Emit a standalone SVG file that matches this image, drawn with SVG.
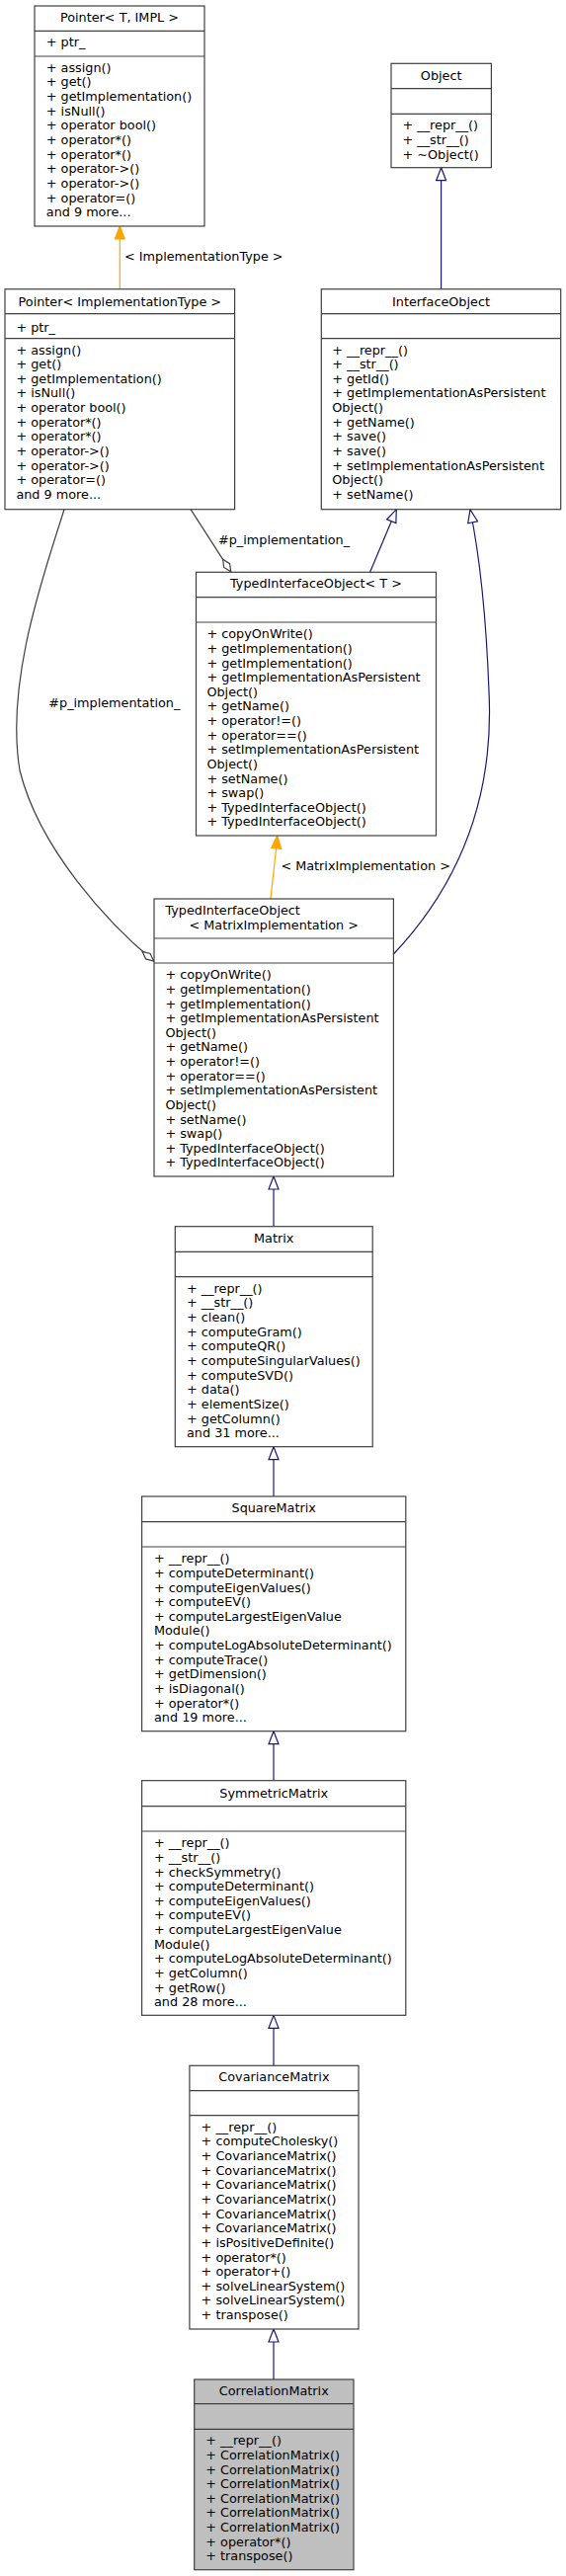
<svg xmlns="http://www.w3.org/2000/svg" width="573" height="2608" viewBox="0 0 573 2608">
<style>
.box{fill:#ffffff;stroke:#404040;stroke-width:1.2}
.hl{fill:#bfbfbf}
.sep{stroke:#404040;stroke-width:1.2;fill:none}
text{font-family:"DejaVu Sans","Liberation Sans",sans-serif;font-size:12.8px;fill:#000000}
.c{text-anchor:middle}
.inh{stroke:#191970;stroke-width:1.2;fill:none}
.tpl{stroke:#ffa500;stroke-width:1.2;fill:none}
.agg{stroke:#404040;stroke-width:1.2;fill:none}
</style>
<defs>
<marker id="mInh" markerUnits="userSpaceOnUse" markerWidth="16" markerHeight="12" refX="14" refY="6" orient="auto"><path d="M1,1 L14,6 L1,11 Z" fill="#ffffff" stroke="#191970" stroke-width="1.2"/></marker>
<marker id="mTpl" markerUnits="userSpaceOnUse" markerWidth="16" markerHeight="12" refX="14" refY="6" orient="auto"><path d="M1,1 L14,6 L1,11 Z" fill="#ffa500" stroke="#ffa500" stroke-width="1.2"/></marker>
<marker id="mAgg" markerUnits="userSpaceOnUse" markerWidth="18" markerHeight="10" refX="16.5" refY="5" orient="auto"><path d="M1,5 L8.5,1.5 L16,5 L8.5,8.5 Z" fill="#ffffff" stroke="#404040" stroke-width="1.2"/></marker>
</defs>
<g id="connectors">
<path class="tpl" d="M121.3,292.7 L121.3,229" marker-end="url(#mTpl)"/>
<text x="126" y="263.8">&lt; ImplementationType &gt;</text>
<path class="inh" d="M446.6,292.7 L446.6,169.7" marker-end="url(#mInh)"/>
<path class="inh" d="M374.6,579.3 L401.3,515.7" marker-end="url(#mInh)"/>
<path class="agg" d="M193,515.7 L234,579.3" marker-end="url(#mAgg)"/>
<text x="221" y="551.2">#p_implementation_</text>
<path class="agg" d="M65,515.7 C45,580 5,690 20,780 C40,860 110,935 156,973.3" marker-end="url(#mAgg)"/>
<text x="49.3" y="716.2">#p_implementation_</text>
<path class="inh" d="M398.4,966 C470,890 500,800 495,700 C492,620 485,560 476,516" marker-end="url(#mInh)"/>
<path class="tpl" d="M274,910 C276,890 279,868 280.7,846" marker-end="url(#mTpl)"/>
<text x="284.4" y="881.2">&lt; MatrixImplementation &gt;</text>
<path class="inh" d="M277,1241.7 L277,1191" marker-end="url(#mInh)"/>
<path class="inh" d="M277,1515 L277,1464.7" marker-end="url(#mInh)"/>
<path class="inh" d="M277,1802.7 L277,1752.7" marker-end="url(#mInh)"/>
<path class="inh" d="M277,2091.3 L277,2040.3" marker-end="url(#mInh)"/>
<path class="inh" d="M277,2409 L277,2358" marker-end="url(#mInh)"/>
</g>
<g id="node_pointer_t_impl">
<rect class="box" x="35" y="6" width="172" height="223"/>
<path class="sep" d="M35,31.3 H207 M35,57 H207"/>
<text class="c" x="121" y="21.8">Pointer&lt; T, IMPL &gt;</text>
<text x="46.8" y="47.2">+ ptr_</text>
<text x="46.8"><tspan x="46.8" y="72.8">+ assign()</tspan><tspan x="46.8" y="87.4">+ get()</tspan><tspan x="46.8" y="102.1">+ getImplementation()</tspan><tspan x="46.8" y="116.7">+ isNull()</tspan><tspan x="46.8" y="131.3">+ operator bool()</tspan><tspan x="46.8" y="146">+ operator*()</tspan><tspan x="46.8" y="160.6">+ operator*()</tspan><tspan x="46.8" y="175.2">+ operator-&gt;()</tspan><tspan x="46.8" y="189.8">+ operator-&gt;()</tspan><tspan x="46.8" y="204.5">+ operator=()</tspan><tspan x="46.8" y="219.1">and 9 more...</tspan></text>
</g>
<g id="node_object">
<rect class="box" x="396" y="64.3" width="101.4" height="105.4"/>
<path class="sep" d="M396,89.7 H497.4 M396,115.3 H497.4"/>
<text class="c" x="446.7" y="81.2">Object</text>
<text x="407.5"><tspan x="407.5" y="131.2">+ __repr__()</tspan><tspan x="407.5" y="145.8">+ __str__()</tspan><tspan x="407.5" y="160.5">+ ~Object()</tspan></text>
</g>
<g id="node_pointer_impltype">
<rect class="box" x="5" y="292.7" width="232.6" height="223"/>
<path class="sep" d="M5,317.7 H237.6 M5,342.7 H237.6"/>
<text class="c" x="121.3" y="309.5">Pointer&lt; ImplementationType &gt;</text>
<text x="16.4" y="335.5">+ ptr_</text>
<text x="16.4"><tspan x="16.4" y="358.5">+ assign()</tspan><tspan x="16.4" y="373.1">+ get()</tspan><tspan x="16.4" y="387.8">+ getImplementation()</tspan><tspan x="16.4" y="402.4">+ isNull()</tspan><tspan x="16.4" y="417">+ operator bool()</tspan><tspan x="16.4" y="431.7">+ operator*()</tspan><tspan x="16.4" y="446.3">+ operator*()</tspan><tspan x="16.4" y="460.9">+ operator-&gt;()</tspan><tspan x="16.4" y="475.5">+ operator-&gt;()</tspan><tspan x="16.4" y="490.2">+ operator=()</tspan><tspan x="16.4" y="504.8">and 9 more...</tspan></text>
</g>
<g id="node_interfaceobject">
<rect class="box" x="325.3" y="292.7" width="242.4" height="223"/>
<path class="sep" d="M325.3,317.7 H567.7 M325.3,342.7 H567.7"/>
<text class="c" x="446.5" y="309.5">InterfaceObject</text>
<text x="336.3"><tspan x="336.3" y="358.5">+ __repr__()</tspan><tspan x="336.3" y="373.1">+ __str__()</tspan><tspan x="336.3" y="387.8">+ getId()</tspan><tspan x="336.3" y="402.4">+ getImplementationAsPersistent</tspan><tspan x="336.3" y="417">Object()</tspan><tspan x="336.3" y="431.7">+ getName()</tspan><tspan x="336.3" y="446.3">+ save()</tspan><tspan x="336.3" y="460.9">+ save()</tspan><tspan x="336.3" y="475.5">+ setImplementationAsPersistent</tspan><tspan x="336.3" y="490.2">Object()</tspan><tspan x="336.3" y="504.8">+ setName()</tspan></text>
</g>
<g id="node_typedinterfaceobject_t">
<rect class="box" x="198.5" y="579.3" width="243" height="266.7"/>
<path class="sep" d="M198.5,604.7 H441.5 M198.5,630 H441.5"/>
<text class="c" x="320" y="595.2">TypedInterfaceObject&lt; T &gt;</text>
<text x="209.4"><tspan x="209.4" y="646.2">+ copyOnWrite()</tspan><tspan x="209.4" y="660.8">+ getImplementation()</tspan><tspan x="209.4" y="675.5">+ getImplementation()</tspan><tspan x="209.4" y="690.1">+ getImplementationAsPersistent</tspan><tspan x="209.4" y="704.7">Object()</tspan><tspan x="209.4" y="719.4">+ getName()</tspan><tspan x="209.4" y="734">+ operator!=()</tspan><tspan x="209.4" y="748.6">+ operator==()</tspan><tspan x="209.4" y="763.2">+ setImplementationAsPersistent</tspan><tspan x="209.4" y="777.9">Object()</tspan><tspan x="209.4" y="792.5">+ setName()</tspan><tspan x="209.4" y="807.1">+ swap()</tspan><tspan x="209.4" y="821.8">+ TypedInterfaceObject()</tspan><tspan x="209.4" y="836.4">+ TypedInterfaceObject()</tspan></text>
</g>
<g id="node_typedinterfaceobject_matrix">
<rect class="box" x="156" y="910" width="242.4" height="281"/>
<path class="sep" d="M156,950 H398.4 M156,975 H398.4"/>
<text x="167.4" y="926.2">TypedInterfaceObject</text>
<text class="c" x="277.2" y="940.8">&lt; MatrixImplementation &gt;</text>
<text x="167.4"><tspan x="167.4" y="991.2">+ copyOnWrite()</tspan><tspan x="167.4" y="1005.8">+ getImplementation()</tspan><tspan x="167.4" y="1020.5">+ getImplementation()</tspan><tspan x="167.4" y="1035.1">+ getImplementationAsPersistent</tspan><tspan x="167.4" y="1049.7">Object()</tspan><tspan x="167.4" y="1064.4">+ getName()</tspan><tspan x="167.4" y="1079">+ operator!=()</tspan><tspan x="167.4" y="1093.6">+ operator==()</tspan><tspan x="167.4" y="1108.2">+ setImplementationAsPersistent</tspan><tspan x="167.4" y="1122.9">Object()</tspan><tspan x="167.4" y="1137.5">+ setName()</tspan><tspan x="167.4" y="1152.1">+ swap()</tspan><tspan x="167.4" y="1166.8">+ TypedInterfaceObject()</tspan><tspan x="167.4" y="1181.4">+ TypedInterfaceObject()</tspan></text>
</g>
<g id="node_matrix">
<rect class="box" x="177.3" y="1241.7" width="199.9" height="223"/>
<path class="sep" d="M177.3,1267.3 H377.2 M177.3,1292.7 H377.2"/>
<text class="c" x="277.2" y="1257.8">Matrix</text>
<text x="189"><tspan x="189" y="1308.8">+ __repr__()</tspan><tspan x="189" y="1323.4">+ __str__()</tspan><tspan x="189" y="1338.1">+ clean()</tspan><tspan x="189" y="1352.7">+ computeGram()</tspan><tspan x="189" y="1367.3">+ computeQR()</tspan><tspan x="189" y="1382">+ computeSingularValues()</tspan><tspan x="189" y="1396.6">+ computeSVD()</tspan><tspan x="189" y="1411.2">+ data()</tspan><tspan x="189" y="1425.8">+ elementSize()</tspan><tspan x="189" y="1440.5">+ getColumn()</tspan><tspan x="189" y="1455.1">and 31 more...</tspan></text>
</g>
<g id="node_squarematrix">
<rect class="box" x="143.6" y="1515" width="267.2" height="237.7"/>
<path class="sep" d="M143.6,1540.7 H410.8 M143.6,1566 H410.8"/>
<text class="c" x="277.2" y="1531.2">SquareMatrix</text>
<text x="156"><tspan x="156" y="1582.2">+ __repr__()</tspan><tspan x="156" y="1596.8">+ computeDeterminant()</tspan><tspan x="156" y="1611.5">+ computeEigenValues()</tspan><tspan x="156" y="1626.1">+ computeEV()</tspan><tspan x="156" y="1640.7">+ computeLargestEigenValue</tspan><tspan x="156" y="1655.4">Module()</tspan><tspan x="156" y="1670">+ computeLogAbsoluteDeterminant()</tspan><tspan x="156" y="1684.6">+ computeTrace()</tspan><tspan x="156" y="1699.2">+ getDimension()</tspan><tspan x="156" y="1713.9">+ isDiagonal()</tspan><tspan x="156" y="1728.5">+ operator*()</tspan><tspan x="156" y="1743.1">and 19 more...</tspan></text>
</g>
<g id="node_symmetricmatrix">
<rect class="box" x="143.6" y="1802.7" width="267.2" height="237.6"/>
<path class="sep" d="M143.6,1828.7 H410.8 M143.6,1854 H410.8"/>
<text class="c" x="277.2" y="1819.5">SymmetricMatrix</text>
<text x="156"><tspan x="156" y="1870.2">+ __repr__()</tspan><tspan x="156" y="1884.8">+ __str__()</tspan><tspan x="156" y="1899.5">+ checkSymmetry()</tspan><tspan x="156" y="1914.1">+ computeDeterminant()</tspan><tspan x="156" y="1928.7">+ computeEigenValues()</tspan><tspan x="156" y="1943.4">+ computeEV()</tspan><tspan x="156" y="1958">+ computeLargestEigenValue</tspan><tspan x="156" y="1972.6">Module()</tspan><tspan x="156" y="1987.2">+ computeLogAbsoluteDeterminant()</tspan><tspan x="156" y="2001.9">+ getColumn()</tspan><tspan x="156" y="2016.5">+ getRow()</tspan><tspan x="156" y="2031.1">and 28 more...</tspan></text>
</g>
<g id="node_covariancematrix">
<rect class="box" x="191.9" y="2091.3" width="171.1" height="266.7"/>
<path class="sep" d="M191.9,2116.7 H363 M191.9,2141.7 H363"/>
<text class="c" x="277.4" y="2107.2">CovarianceMatrix</text>
<text x="203.6"><tspan x="203.6" y="2157.8">+ __repr__()</tspan><tspan x="203.6" y="2172.4">+ computeCholesky()</tspan><tspan x="203.6" y="2187.1">+ CovarianceMatrix()</tspan><tspan x="203.6" y="2201.7">+ CovarianceMatrix()</tspan><tspan x="203.6" y="2216.3">+ CovarianceMatrix()</tspan><tspan x="203.6" y="2231">+ CovarianceMatrix()</tspan><tspan x="203.6" y="2245.6">+ CovarianceMatrix()</tspan><tspan x="203.6" y="2260.2">+ CovarianceMatrix()</tspan><tspan x="203.6" y="2274.8">+ isPositiveDefinite()</tspan><tspan x="203.6" y="2289.5">+ operator*()</tspan><tspan x="203.6" y="2304.1">+ operator+()</tspan><tspan x="203.6" y="2318.7">+ solveLinearSystem()</tspan><tspan x="203.6" y="2333.4">+ solveLinearSystem()</tspan><tspan x="203.6" y="2348">+ transpose()</tspan></text>
</g>
<g id="node_correlationmatrix">
<rect class="box hl" x="196.7" y="2409" width="161.3" height="192.7"/>
<path class="sep" d="M196.7,2433.7 H358 M196.7,2459.3 H358"/>
<text class="c" x="277.3" y="2425.2">CorrelationMatrix</text>
<text x="208.3"><tspan x="208.3" y="2475.2">+ __repr__()</tspan><tspan x="208.3" y="2489.8">+ CorrelationMatrix()</tspan><tspan x="208.3" y="2504.5">+ CorrelationMatrix()</tspan><tspan x="208.3" y="2519.1">+ CorrelationMatrix()</tspan><tspan x="208.3" y="2533.7">+ CorrelationMatrix()</tspan><tspan x="208.3" y="2548.4">+ CorrelationMatrix()</tspan><tspan x="208.3" y="2563">+ CorrelationMatrix()</tspan><tspan x="208.3" y="2577.6">+ operator*()</tspan><tspan x="208.3" y="2592.2">+ transpose()</tspan></text>
</g>
</svg>
